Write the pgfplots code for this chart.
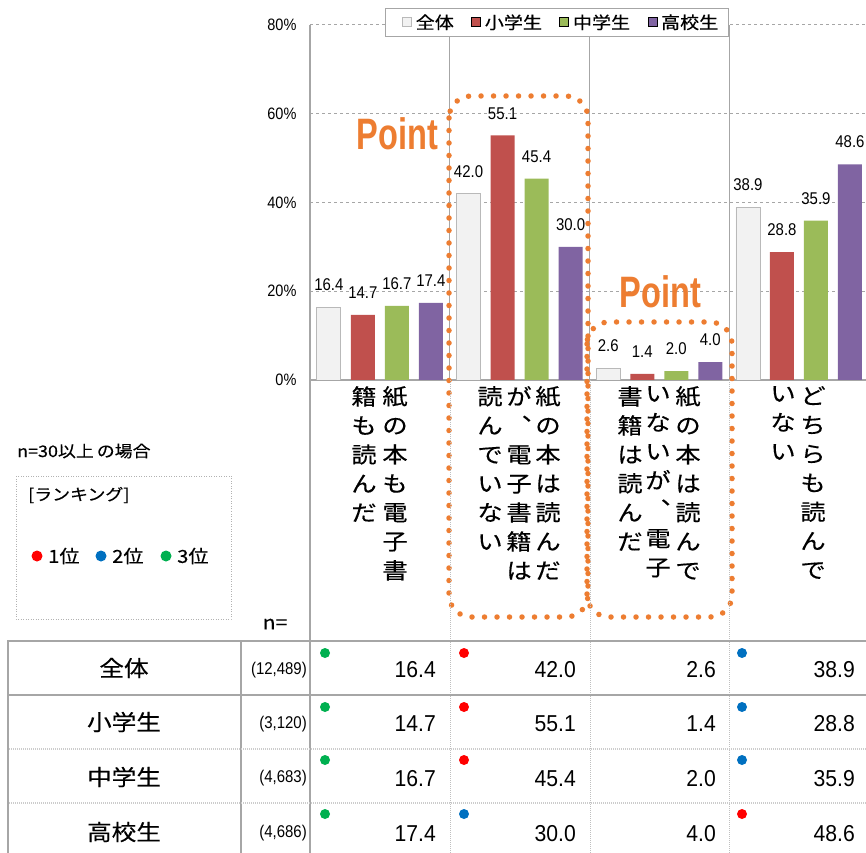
\documentclass[border=0pt]{standalone}
\usepackage{fontspec}
\usepackage{pgfplots}
\usepackage{pgfplotstable}
\pgfplotsset{compat=1.18}
\setmainfont{Noto Sans CJK JP}
\newfontfamily\jp[FakeStretch=1.12,FakeBold=0.3]{Noto Sans CJK JP}
\newfontfamily\jpv[FakeStretch=1.15,FakeBold=0.3]{Noto Sans CJK JP}
\newfontfamily\nar[FakeStretch=0.88]{Liberation Sans}
\newfontfamily\tnum[FakeStretch=0.92]{Liberation Sans}
\newfontfamily\pointfont[FakeStretch=0.74]{Liberation Sans}
\definecolor{cAll}{HTML}{F2F2F2}
\definecolor{cEl}{HTML}{C0504D}
\definecolor{cJr}{HTML}{9BBB59}
\definecolor{cHi}{HTML}{8064A2}
\definecolor{cOr}{HTML}{ED7D31}
\definecolor{rkA}{HTML}{FF0000}
\definecolor{rkB}{HTML}{0070C0}
\definecolor{rkC}{HTML}{00B050}
\definecolor{ln}{HTML}{A6A6A6}
\pgfplotstableread{
g all el jr hi
0 16.4 14.7 16.7 17.4
1 42.0 55.1 45.4 30.0
2 2.6 1.4 2.0 4.0
3 38.9 28.8 35.9 48.6
}\bars
\pgfplotsset{legimg/.style={legend image code/.code={\path[draw=none,fill=none] (-9pt,0pt) -- (11pt,0pt);\draw[##1] (0pt,-4.5pt) rectangle (9pt,4.5pt);}}}
\newcommand\vlab[2]{\node[anchor=north,inner sep=0pt,align=center,font=\jpv\fontsize{22}{29}\selectfont] at (#1,386) {#2};}
\newcommand\val[3]{\node[anchor=base east,inner sep=0pt,font=\tnum\fontsize{23}{23}\selectfont] at (#1,#2) {#3};}
\begin{document}
\begin{tikzpicture}
\begin{axis}[
  at={(310pt,472pt)}, anchor=south west,
  scale only axis, width=558.8pt, height=355pt,
  xmin=-0.5, xmax=3.5, ymin=0, ymax=80,
  ybar=10pt, bar width=24pt,
  xtick={0.5,1.5,2.5}, xticklabels={},
  ytick={0,20,40,60,80},
  yticklabel={\pgfmathprintnumber{\tick}\%},
  /pgf/number format/assume math mode=true,
  yticklabel style={font=\nar\fontsize{16.5}{16.5}\selectfont, xshift=-10pt},
  major tick length=0pt,
  xmajorgrids, ymajorgrids,
  x grid style={ln, line width=1pt},
  y grid style={ln, dashed, line width=1pt},
  axis x line*=bottom, axis y line*=left,
  axis line style={-, ln, line width=1.5pt},
  nodes near coords={\pgfmathprintnumber[fixed,fixed zerofill,precision=1]{\pgfplotspointmeta}},
  every node near coord/.append style={font=\nar\fontsize{17}{17}\selectfont, anchor=south, inner sep=0pt, yshift=16pt, text=black},
  legend columns=4,
  legend style={at={(0.442,1.048)}, anchor=north, draw=ln, line width=1pt, fill=white,
    font=\jp\fontsize{17}{17}\selectfont, inner xsep=8pt, inner ysep=4pt,
    /tikz/every even column/.append style={column sep=7pt}},
  legend cell align=left,
]
\addplot[fill=cAll,draw=gray!55,line width=0.8pt,legimg] table[x=g,y=all]{\bars};
\addplot[fill=cEl,draw=none,legimg] table[x=g,y=el]{\bars};
\addplot[fill=cJr,draw=none,legimg] table[x=g,y=jr]{\bars};
\addplot[fill=cHi,draw=none,legimg] table[x=g,y=hi]{\bars};
\legend{全体,小学生,中学生,高校生}
\end{axis}
\begin{scope}[x=1pt,y=-1pt,yshift=852pt]
% orange dotted boxes
\draw[cOr,line width=5.5pt,line cap=round,dash pattern=on 0pt off 12.5pt,rounded corners=22pt] (449,96) rectangle (588,617);
\draw[cOr,line width=5.5pt,line cap=round,dash pattern=on 0pt off 12.5pt,rounded corners=22pt] (587,322) rectangle (732,617);
\node[text=cOr,font=\pointfont\bfseries\fontsize{44}{44}\selectfont] at (397.5,134) {Point};
\node[text=cOr,font=\pointfont\bfseries\fontsize{44}{44}\selectfont] at (660.5,291.5) {Point};
% vertical category labels
\vlab{395}{紙\\の\\本\\も\\電\\子\\書}
\vlab{364}{籍\\も\\読\\ん\\だ}
\vlab{548}{紙\\の\\本\\は\\読\\ん\\だ}
\vlab{519}{が\\︑\\電\\子\\書\\籍\\は}
\vlab{490}{読\\ん\\で\\い\\な\\い}
\vlab{688}{紙\\の\\本\\は\\読\\ん\\で}
\vlab{658}{い\\な\\い\\が\\︑\\電\\子}
\vlab{630}{書\\籍\\は\\読\\ん\\だ}
\vlab{813}{ど\\ち\\ら\\も\\読\\ん\\で}
\vlab{783}{い\\な\\い}
% left notes
\node[anchor=west,inner sep=0pt,font=\jp\fontsize{16}{16}\selectfont] at (17,451) {n=30以上\hspace{3pt}の場合};
\draw[gray!60,line width=1pt,dash pattern=on 1pt off 1.5pt] (16,476) rectangle (231,619);
\node[anchor=west,inner sep=0pt,font=\jp\fontsize{16}{16}\selectfont] at (28,495) {[ランキング]};
\fill[rkA] (37,556) circle (5.5);
\node[anchor=west,inner sep=0pt,font=\jp\fontsize{18}{18}\selectfont] at (48,556) {1位};
\fill[rkB] (101,556) circle (5.5);
\node[anchor=west,inner sep=0pt,font=\jp\fontsize{18}{18}\selectfont] at (112,556) {2位};
\fill[rkC] (166,556) circle (5.5);
\node[anchor=west,inner sep=0pt,font=\jp\fontsize{18}{18}\selectfont] at (177,556) {3位};
\node[font=\jp\fontsize{19}{19}\selectfont] at (275,624) {n=};
% table lines
\foreach \x in {450,590,729.5} \draw[gray!50,line width=1pt,dash pattern=on 1pt off 1pt] (\x,380) -- (\x,860);
\draw[ln,line width=1.5pt] (310,380) -- (310,860);
\draw[ln,line width=1.5pt] (241,641) -- (241,860);
\draw[ln,line width=2.5pt] (7,641) -- (870,641);
\draw[ln,line width=2.5pt] (7,695) -- (870,695);
\draw[gray!40,line width=2.5pt,dash pattern=on 1pt off 1pt] (7,749) -- (870,749);
\draw[gray!40,line width=2.5pt,dash pattern=on 1pt off 1pt] (7,803) -- (870,803);
\draw[ln,line width=2.5pt] (8,640) -- (8,860);
% table text
\foreach \t/\y in {全体/668,小学生/722,中学生/777,高校生/832}
  \node[font=\jp\fontsize{22}{22}\selectfont] at (124,\y) {\t};
\foreach \t/\y in {(12{,}489)/670,(3{,}120)/724,(4{,}683)/778,(4{,}686)/833}
  \node[anchor=east,inner sep=0pt,font=\nar\fontsize{17}{17}\selectfont] at (307,\y) {\t};
\val{436}{677}{16.4}\val{576}{677}{42.0}\val{716}{677}{2.6}\val{855}{677}{38.9}
\val{436}{731}{14.7}\val{576}{731}{55.1}\val{716}{731}{1.4}\val{855}{731}{28.8}
\val{436}{786}{16.7}\val{576}{786}{45.4}\val{716}{786}{2.0}\val{855}{786}{35.9}
\val{436}{841}{17.4}\val{576}{841}{30.0}\val{716}{841}{4.0}\val{855}{841}{48.6}
% ranking dots
\foreach \y in {653,707,760,814} {\fill[rkC] (325,\y) circle (5);}
\foreach \y in {653,707,760} {\fill[rkA] (464,\y) circle (5);}
\fill[rkB] (464,814) circle (5);
\foreach \y in {653,707,760} {\fill[rkB] (742,\y) circle (5);}
\fill[rkA] (742,814) circle (5);
\end{scope}
\pgfresetboundingbox
\path[use as bounding box] (0,0) rectangle (866pt,852pt);
\end{tikzpicture}
\end{document}
